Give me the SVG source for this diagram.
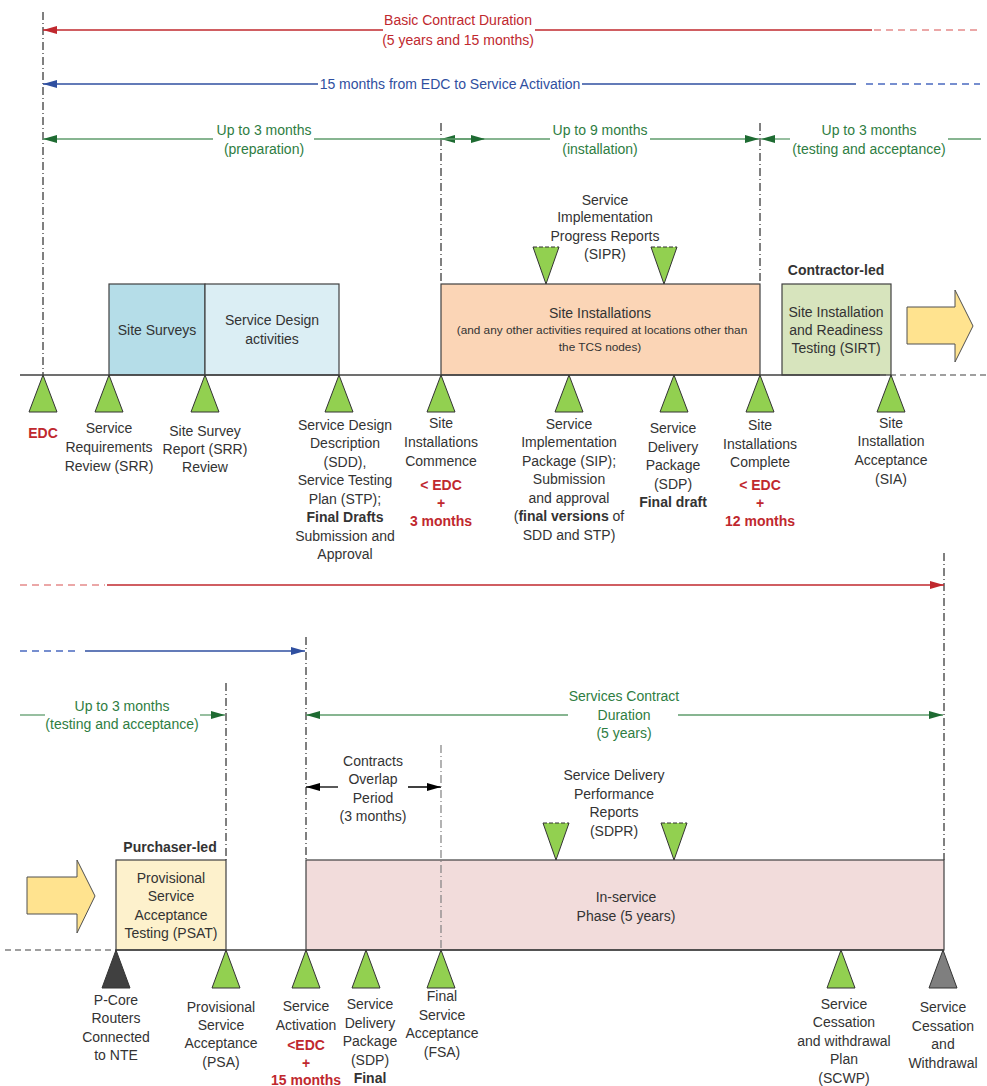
<svg xmlns="http://www.w3.org/2000/svg" width="987" height="1086" viewBox="0 0 987 1086">
<defs>
<marker id="aR" viewBox="0 0 14 8" refX="14" refY="4" markerWidth="14" markerHeight="8" markerUnits="userSpaceOnUse" orient="auto"><path d="M0,0 L14,4 L0,8 z" fill="#c0282e"/></marker>
<marker id="aB" viewBox="0 0 14 8" refX="14" refY="4" markerWidth="14" markerHeight="8" markerUnits="userSpaceOnUse" orient="auto"><path d="M0,0 L14,4 L0,8 z" fill="#2f4fa0"/></marker>
<marker id="aG" viewBox="0 0 14 8" refX="14" refY="4" markerWidth="14" markerHeight="8" markerUnits="userSpaceOnUse" orient="auto"><path d="M0,0 L14,4 L0,8 z" fill="#1e6b32"/></marker>
<marker id="aK" viewBox="0 0 14 8" refX="14" refY="4" markerWidth="14" markerHeight="8" markerUnits="userSpaceOnUse" orient="auto"><path d="M0,0 L14,4 L0,8 z" fill="#000"/></marker>
</defs>
<style>
text{font-family:"Liberation Sans",Arial,sans-serif;font-size:14px;fill:#333;text-anchor:middle}
.red{fill:#c0282e;font-weight:bold}
.rt{fill:#c0282e}
.bt{fill:#2f4fa0}
.gt{fill:#2e7d42}
.b{font-weight:bold}
.sm{font-size:11.8px}
.vd{stroke:#000;stroke-width:1;stroke-dasharray:8 3 1 3;fill:none}
.vg{stroke:#808080;stroke-width:1.2;stroke-dasharray:8 3 1 3;fill:none}
.base{stroke:#404040;stroke-width:1.5;fill:none}
.dsh{stroke:#404040;stroke-width:1.2;stroke-dasharray:6 4;fill:none}
.rl{stroke:#c0282e;stroke-width:1.3;fill:none}
.rld{stroke:#e58a8a;stroke-width:1.3;stroke-dasharray:7 5;fill:none}
.bl{stroke:#2f4fa0;stroke-width:1.3;fill:none}
.bld{stroke:#4a6ac0;stroke-width:1.3;stroke-dasharray:7 5;fill:none}
.gl{stroke:#5f9c6c;stroke-width:1.3;fill:none}
.kl{stroke:#000;stroke-width:1.3;fill:none}
.box{stroke:#404040;stroke-width:1.2}
.ms{fill:#92d050;stroke:#333;stroke-width:1}
.inv{fill:#92d050;stroke:none}
.arr{fill:#ffe38f;stroke:#505050;stroke-width:1}
</style>

<g id="guides">
<line class="vd" x1="43" y1="12" x2="43" y2="375"/>
<line class="vd" x1="441" y1="123" x2="441" y2="284"/>
<line class="vd" x1="760" y1="123" x2="760" y2="284"/>
<line class="vd" x1="944" y1="553" x2="944" y2="860"/>
<line class="vd" x1="306" y1="637" x2="306" y2="860"/>
<line class="vd" x1="226" y1="683" x2="226" y2="860"/>
</g>

<g id="connectors">
<line class="rl" x1="383" y1="30" x2="43" y2="30" marker-end="url(#aR)"/>
<line class="rl" x1="535" y1="30" x2="872" y2="30"/>
<line class="rld" x1="874" y1="30" x2="978" y2="30"/>
<line class="bl" x1="318" y1="84" x2="43" y2="84" marker-end="url(#aB)"/>
<line class="bl" x1="582" y1="84" x2="856" y2="84"/>
<line class="bld" x1="866" y1="84" x2="980" y2="84"/>
<line class="gl" x1="213" y1="139" x2="43" y2="139" marker-end="url(#aG)"/>
<line class="gl" x1="314" y1="139" x2="441" y2="139"/>
<line class="gl" x1="484" y1="139" x2="441" y2="139" marker-end="url(#aG)"/>
<line class="gl" x1="441" y1="139" x2="485" y2="139" marker-end="url(#aG)"/>
<line class="gl" x1="485" y1="139" x2="550" y2="139"/>
<line class="gl" x1="650" y1="139" x2="759" y2="139" marker-end="url(#aG)"/>
<line class="gl" x1="790" y1="139" x2="761" y2="139" marker-end="url(#aG)"/>
<line class="gl" x1="948" y1="139" x2="981" y2="139"/>

<line class="rld" x1="20" y1="585" x2="105" y2="585"/>
<line class="rl" x1="107" y1="585" x2="944" y2="585" marker-end="url(#aR)"/>
<line class="bld" x1="20" y1="651" x2="78" y2="651"/>
<line class="bl" x1="85" y1="651" x2="305" y2="651" marker-end="url(#aB)"/>
<line class="gl" x1="20" y1="715" x2="45" y2="715"/>
<line class="gl" x1="200" y1="715" x2="225" y2="715" marker-end="url(#aG)"/>
<line class="gl" x1="568" y1="715" x2="306" y2="715" marker-end="url(#aG)"/>
<line class="gl" x1="678" y1="715" x2="943" y2="715" marker-end="url(#aG)"/>
<line class="kl" x1="338" y1="787" x2="306" y2="787" marker-end="url(#aK)"/>
<line class="kl" x1="408" y1="787" x2="441" y2="787" marker-end="url(#aK)"/>
</g>

<g id="labels-durations">
<text class="rt" x="458" y="25">Basic Contract Duration</text>
<text class="rt" x="458" y="45">(5 years and 15 months)</text>
<text class="bt" x="450" y="89">15 months from EDC to Service Activation</text>
<text class="gt" x="264" y="135">Up to 3 months</text>
<text class="gt" x="264" y="154">(preparation)</text>
<text class="gt" x="600" y="135">Up to 9 months</text>
<text class="gt" x="600" y="154">(installation)</text>
<text class="gt" x="869" y="135">Up to 3 months</text>
<text class="gt" x="869" y="154">(testing and acceptance)</text>
<text class="gt" x="122" y="711">Up to 3 months</text>
<text class="gt" x="122" y="729">(testing and acceptance)</text>
<text class="gt" x="624" y="701">Services Contract</text>
<text class="gt" x="624" y="720">Duration</text>
<text class="gt" x="624" y="738">(5 years)</text>
<text x="373" y="766">Contracts</text>
<text x="373" y="784">Overlap</text>
<text x="373" y="803">Period</text>
<text x="373" y="821">(3 months)</text>
</g>

<g id="site-surveys">
<rect class="box" x="109" y="284" width="96" height="91" fill="#b5dde8"/>
<text x="157" y="335">Site Surveys</text>
</g>
<g id="service-design">
<rect class="box" x="205" y="284" width="134" height="91" fill="#dbeef4"/>
<text x="272" y="325">Service Design</text>
<text x="272" y="344">activities</text>
</g>
<g id="site-installations">
<rect class="box" x="441" y="284" width="319" height="91" fill="#fbd5b6"/>
<text x="600" y="318">Site Installations</text>
<text class="sm" x="602" y="334">(and any other activities required at locations other than</text>
<text class="sm" x="600" y="351">the TCS nodes)</text>
</g>
<g id="sipr">
<polygon class="inv" points="533,247 559,247 546,284"/>
<polygon class="inv" points="651,247 677,247 664,284"/>
<path d="M533,247 L546,284 L559,247 M651,247 L664,284 L677,247" stroke="#333" stroke-width="1" fill="none"/>
<path d="M533,247 H559 M651,247 H677" stroke="#333" stroke-width="1.2" stroke-dasharray="4 2" fill="none"/>
<text x="605" y="205">Service</text>
<text x="605" y="222">Implementation</text>
<text x="605" y="241">Progress Reports</text>
<text x="605" y="259">(SIPR)</text>
</g>
<g id="sirt">
<text class="b" x="836" y="275">Contractor-led</text>
<rect class="box" x="782" y="284" width="109" height="91" fill="#d7e4bd"/>
<text x="836" y="317">Site Installation</text>
<text x="836" y="335">and Readiness</text>
<text x="836" y="353">Testing (SIRT)</text>
</g>
<g id="arrow-top">
<polygon class="arr" points="907,307 955,307 955,290 973,326 955,362 955,344 907,344"/>
</g>

<g id="baseline-top">
<line class="base" x1="20" y1="375" x2="880" y2="375"/>
<line class="dsh" x1="880" y1="375" x2="987" y2="375"/>
</g>

<g id="ms-edc"><polygon class="ms" points="29,412 57,412 43,375"/><text class="red" x="43" y="438">EDC</text></g>
<g id="ms-srr"><polygon class="ms" points="95,412 123,412 109,375"/>
<text x="109" y="433">Service</text><text x="109" y="452">Requirements</text><text x="109" y="471">Review (SRR)</text></g>
<g id="ms-ssr"><polygon class="ms" points="191,412 219,412 205,375"/>
<text x="205" y="436">Site Survey</text><text x="205" y="454">Report (SRR)</text><text x="205" y="472">Review</text></g>
<g id="ms-sdd"><polygon class="ms" points="325,412 353,412 339,375"/>
<text x="345" y="430">Service Design</text><text x="345" y="448">Description</text><text x="345" y="467">(SDD),</text><text x="345" y="485">Service Testing</text><text x="345" y="504">Plan (STP);</text><text class="b" x="345" y="522">Final Drafts</text><text x="345" y="541">Submission and</text><text x="345" y="559">Approval</text></g>
<g id="ms-sic"><polygon class="ms" points="427,412 455,412 441,375"/>
<text x="441" y="428">Site</text><text x="441" y="447">Installations</text><text x="441" y="466">Commence</text><text class="red" x="441" y="490">&lt; EDC</text><text class="red" x="441" y="508">+</text><text class="red" x="441" y="526">3 months</text></g>
<g id="ms-sip"><polygon class="ms" points="555,412 583,412 569,375"/>
<text x="569" y="429">Service</text><text x="569" y="447">Implementation</text><text x="569" y="466">Package (SIP);</text><text x="569" y="484">Submission</text><text x="569" y="503">and approval</text><text x="569" y="521">(<tspan class="b">final versions</tspan> of</text><text x="569" y="540">SDD and STP)</text></g>
<g id="ms-sdp"><polygon class="ms" points="660,412 688,412 674,375"/>
<text x="673" y="433">Service</text><text x="673" y="452">Delivery</text><text x="673" y="470">Package</text><text x="673" y="489">(SDP)</text><text class="b" x="673" y="507">Final draft</text></g>
<g id="ms-sicomplete"><polygon class="ms" points="746,412 774,412 760,375"/>
<text x="760" y="430">Site</text><text x="760" y="449">Installations</text><text x="760" y="467">Complete</text><text class="red" x="760" y="490">&lt; EDC</text><text class="red" x="760" y="508">+</text><text class="red" x="760" y="526">12 months</text></g>
<g id="ms-sia"><polygon class="ms" points="877,412 905,412 891,375"/>
<text x="891" y="428">Site</text><text x="891" y="446">Installation</text><text x="891" y="465">Acceptance</text><text x="891" y="484">(SIA)</text></g>

<g id="arrow-bottom">
<polygon class="arr" points="27,877 77,877 77,860 95,896 77,933 77,914 27,914"/>
</g>
<g id="psat">
<text class="b" x="170" y="852">Purchaser-led</text>
<rect class="box" x="116" y="860" width="110" height="90" fill="#fdf1cc"/>
<text x="171" y="883">Provisional</text>
<text x="171" y="901">Service</text>
<text x="171" y="920">Acceptance</text>
<text x="171" y="938">Testing (PSAT)</text>
</g>
<g id="in-service">
<rect class="box" x="306" y="860" width="638" height="90" fill="#f2dcdb"/>
<text x="626" y="902">In-service</text>
<text x="626" y="921">Phase (5 years)</text>
</g>
<g id="overlap-guide">
<line class="vg" x1="441" y1="745" x2="441" y2="950"/>
</g>
<g id="sdpr">
<polygon class="inv" points="543,823 569,823 556,860"/>
<polygon class="inv" points="661,823 687,823 674,860"/>
<path d="M543,823 L556,860 L569,823 M661,823 L674,860 L687,823" stroke="#333" stroke-width="1" fill="none"/>
<path d="M543,823 H569 M661,823 H687" stroke="#333" stroke-width="1.2" stroke-dasharray="4 2" fill="none"/>
<text x="614" y="780">Service Delivery</text>
<text x="614" y="799">Performance</text>
<text x="614" y="817">Reports</text>
<text x="614" y="836">(SDPR)</text>
</g>

<g id="baseline-bottom">
<line class="dsh" x1="5" y1="950" x2="115" y2="950"/>
<line class="base" x1="115" y1="950" x2="944" y2="950"/>
</g>

<g id="ms-pcore"><polygon points="102,988 130,988 116,950" fill="#404040" stroke="#333"/>
<text x="116" y="1005">P-Core</text><text x="116" y="1023">Routers</text><text x="116" y="1042">Connected</text><text x="116" y="1060">to NTE</text></g>
<g id="ms-psa"><polygon class="ms" points="212,988 240,988 226,950"/>
<text x="221" y="1012">Provisional</text><text x="221" y="1030">Service</text><text x="221" y="1048">Acceptance</text><text x="221" y="1067">(PSA)</text></g>
<g id="ms-sa"><polygon class="ms" points="292,988 320,988 306,950"/>
<text x="306" y="1011">Service</text><text x="306" y="1030">Activation</text><text class="red" x="306" y="1050">&lt;EDC</text><text class="red" x="306" y="1068">+</text><text class="red" x="306" y="1085">15 months</text></g>
<g id="ms-sdp2"><polygon class="ms" points="352,988 380,988 366,950"/>
<text x="370" y="1009">Service</text><text x="370" y="1028">Delivery</text><text x="370" y="1046">Package</text><text x="370" y="1065">(SDP)</text><text class="b" x="370" y="1083">Final</text></g>
<g id="ms-fsa"><polygon class="ms" points="427,988 455,988 441,950"/>
<text x="442" y="1001">Final</text><text x="442" y="1020">Service</text><text x="442" y="1038">Acceptance</text><text x="442" y="1057">(FSA)</text></g>
<g id="ms-scwp"><polygon class="ms" points="827,988 855,988 841,950"/>
<text x="844" y="1009">Service</text><text x="844" y="1027">Cessation</text><text x="844" y="1046">and withdrawal</text><text x="844" y="1064">Plan</text><text x="844" y="1083">(SCWP)</text></g>
<g id="ms-scw"><polygon points="929,988 957,988 943,950" fill="#7f7f7f" stroke="#333"/>
<text x="943" y="1012">Service</text><text x="943" y="1031">Cessation</text><text x="943" y="1049">and</text><text x="943" y="1068">Withdrawal</text></g>
</svg>
